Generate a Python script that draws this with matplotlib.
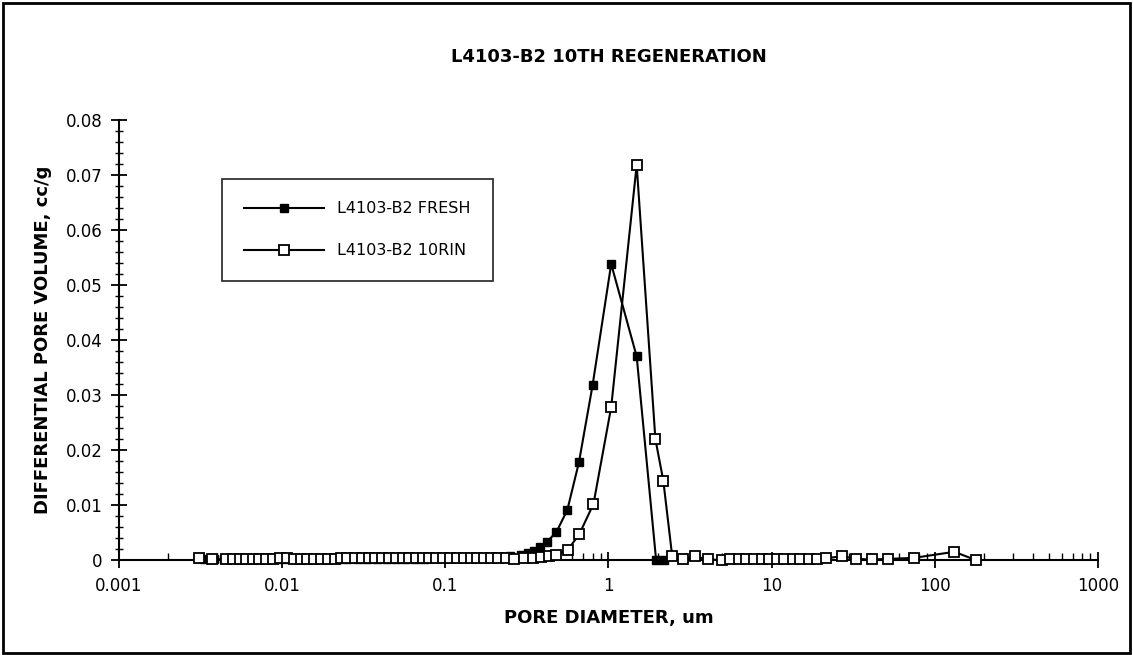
import matplotlib
matplotlib.use('Agg')
import matplotlib.pyplot as plt
from matplotlib.patches import Rectangle
from matplotlib.ticker import FixedLocator, LogLocator, NullFormatter

# pore diameter (um) and differential pore volume (cc/g)
fresh_x = [0.0033, 0.0038, 0.0044, 0.005, 0.0057, 0.0065, 0.0074, 0.0085, 0.0097,
           0.011, 0.0126, 0.0144, 0.0165, 0.019, 0.022, 0.025, 0.029, 0.033, 0.038,
           0.044, 0.05, 0.057, 0.065, 0.074, 0.085, 0.097, 0.11, 0.126, 0.144,
           0.165, 0.19, 0.22, 0.25, 0.29, 0.32, 0.35, 0.38, 0.42, 0.48, 0.56,
           0.66, 0.80, 1.04, 1.49, 1.96, 2.2]
fresh_y = [0.0001, 0.0001, 0.0001, 0.0001, 0.0001, 0.0001, 0.0001, 0.0002, 0.0002,
           0.0002, 0.0002, 0.0002, 0.0002, 0.0002, 0.0002, 0.0002, 0.0002, 0.0002, 0.0002,
           0.0002, 0.0002, 0.0002, 0.0002, 0.0002, 0.0003, 0.0003, 0.0003, 0.0003, 0.0004,
           0.0004, 0.0005, 0.0006, 0.0007, 0.0009, 0.0012, 0.0016, 0.0024, 0.0033, 0.0051, 0.0091,
           0.0178, 0.0318, 0.0538, 0.0370, 0.0, 0.0]

rin_x = [0.0031, 0.0037, 0.0045, 0.005, 0.0055, 0.006, 0.0066, 0.0072, 0.008, 0.0088,
         0.0097, 0.0107, 0.0118, 0.013, 0.0143, 0.0157, 0.0173, 0.019, 0.021, 0.023,
         0.025, 0.028, 0.031, 0.034, 0.037, 0.041, 0.045, 0.05, 0.055, 0.06, 0.066,
         0.073, 0.08, 0.088, 0.097, 0.107, 0.118, 0.13, 0.143, 0.157, 0.173, 0.19,
         0.21, 0.235, 0.265, 0.305, 0.344, 0.386, 0.43, 0.478, 0.562, 0.663, 0.81,
         1.04, 1.49, 1.94, 2.17, 2.46, 2.86, 3.37, 4.06, 5.0, 5.6, 6.3, 7.0, 7.8,
         8.7, 9.7, 10.8, 12.0, 13.5, 15.0, 17.0, 19.0, 21.5, 27.0, 33.0, 41.0, 52.0,
         75.0, 132.0, 178.0]
rin_y = [0.0003, 0.0002, 0.0001, 0.0001, 0.0001, 0.0001, 0.0002, 0.0002, 0.0002, 0.0002,
         0.0003, 0.0003, 0.0002, 0.0002, 0.0002, 0.0002, 0.0002, 0.0002, 0.0002, 0.0003,
         0.0003, 0.0004, 0.0003, 0.0003, 0.0004, 0.0004, 0.0004, 0.0004, 0.0003, 0.0003, 0.0003,
         0.0003, 0.0003, 0.0003, 0.0003, 0.0003, 0.0003, 0.0003, 0.0003, 0.0003, 0.0003, 0.0003,
         0.0003, 0.0003, 0.0002, 0.0004, 0.0004, 0.0006, 0.0008, 0.0009, 0.0018, 0.0047, 0.0102,
         0.0278, 0.0718, 0.0220, 0.0144, 0.0007, 0.0001, 0.0007, 0.0001, 0.0, 0.0001, 0.0001,
         0.0001, 0.0001, 0.0001, 0.0001, 0.0001, 0.0001, 0.0001, 0.0001, 0.0002, 0.0002,
         0.0003, 0.0007, 0.0002, 0.0001, 0.0002, 0.0004, 0.0015, 0.0]

x_ticks = [0.001, 0.01, 0.1, 1, 10, 100, 1000]
x_labels = ['0.001', '0.01', '0.1', '1', '10', '100', '1000']
y_ticks = [0, 0.01, 0.02, 0.03, 0.04, 0.05, 0.06, 0.07, 0.08]
y_labels = ['0', '0.01', '0.02', '0.03', '0.04', '0.05', '0.06', '0.07', '0.08']

fig = plt.figure(figsize=(11.33, 6.55), dpi=100)
ax = fig.add_axes([0.105, 0.145, 0.864, 0.672])

ax.plot(fresh_x, fresh_y, color='black', lw=1.5, marker='s', ms=5.5,
        mfc='black', mec='black', label='L4103-B2 FRESH', zorder=2, clip_on=False)
ax.plot(rin_x, rin_y, color='black', lw=1.5, marker='s', ms=7.5,
        mfc='white', mec='black', mew=1.3, label='L4103-B2 10RIN', zorder=3, clip_on=False)

ax.set_xscale('log')
ax.set_xlim(0.001, 1000)
ax.set_ylim(0, 0.08)
ax.set_xticks(x_ticks)
ax.set_xticklabels(x_labels)
ax.set_yticks(y_ticks)
ax.set_yticklabels(y_labels)
ax.xaxis.set_minor_locator(LogLocator(base=10, subs=range(2, 10)))
ax.xaxis.set_minor_formatter(NullFormatter())
ax.yaxis.set_minor_locator(FixedLocator([i * 0.002 for i in range(41)]))

ax.tick_params(axis='both', which='major', direction='inout', length=12, width=1.3,
               labelsize=12, pad=6)
ax.tick_params(axis='x', which='minor', direction='in', length=5, width=1)
ax.tick_params(axis='y', which='minor', direction='inout', length=6, width=1)

for s in ['top', 'right']:
    ax.spines[s].set_visible(False)
for s in ['left', 'bottom']:
    ax.spines[s].set_linewidth(1.5)

ax.set_xlabel('PORE DIAMETER, um', fontsize=13, fontweight='bold', labelpad=10)
ax.set_ylabel('DIFFERENTIAL PORE VOLUME, cc/g', fontsize=13, fontweight='bold', labelpad=10)
ax.set_title('L4103-B2 10TH REGENERATION', fontsize=13, fontweight='bold', pad=42)

leg = ax.legend(loc='upper left', bbox_to_anchor=(0.105, 0.866), borderaxespad=0,
                fontsize=11.5, frameon=True, fancybox=False, handlelength=5,
                labelspacing=1.7, borderpad=1.4, handletextpad=0.8)
leg.get_frame().set_edgecolor('black')
leg.get_frame().set_linewidth(1.3)

fig.patches.append(Rectangle((0.003, 0.003), 0.994, 0.992, transform=fig.transFigure,
                             fill=False, edgecolor='black', lw=2))

fig.savefig('out.png', dpi=100)
